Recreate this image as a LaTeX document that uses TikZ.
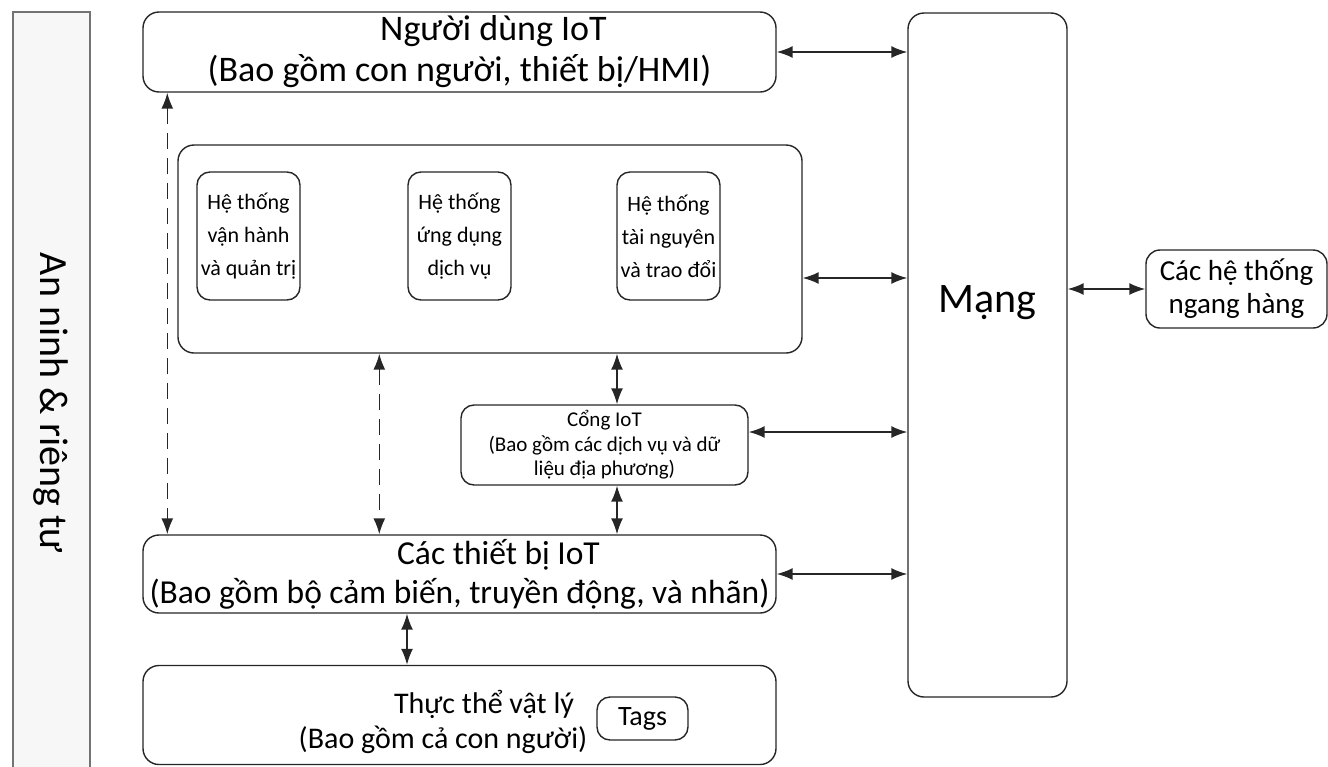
\documentclass[tikz,border=0pt]{standalone}
\usepackage{fontspec}
\setmainfont{Carlito}
\usetikzlibrary{arrows.meta,positioning}

\begin{document}
\begin{tikzpicture}
	[x=1pt, y=-1pt, inner sep=0pt,
	frame/.style	= {draw=black!85, line width=1.4pt, rounded corners=16pt, fill=white, align=center},
	inner/.style	= {frame, rounded corners=13pt, minimum width=103pt, minimum height=128pt, font=\fontsize{22}{33}\selectfont},
	label/.style	= {align=center},
	link/.style		= {{Latex[length=16pt,width=12pt]}-{Latex[length=16pt,width=12pt]}, line width=1.6pt, black!85},
	dashlink/.style	= {link, dash pattern=on 16pt off 9pt}]

	\useasboundingbox (0,0) rectangle (1328,766);

	% security column
	\draw [draw=black!55, fill=black!3, line width=1.2pt] (13,12) rectangle (90,790);
	\node [label, rotate=-90, font=\fontsize{40}{46}\selectfont] at (51,403) (sec) {An ninh \& riêng tư};

	% main column
	\node [frame, minimum width=633pt, minimum height=80pt, font=\fontsize{36}{41}\selectfont]	at (459.5,52)	(user)	{\hspace*{68pt}Người dùng IoT\\(Bao gồm con người, thiết bị/HMI)};
	\node [frame, minimum width=624pt, minimum height=208pt]	at (490,249)	(sys)	{};
	\node [inner]	at (248.5,236)	(ops)	{Hệ thống\\vận hành\\và quản trị};
	\node [inner]	at (459.5,236)	(app)	{Hệ thống\\ứng dụng\\dịch vụ};
	\node [inner]	at (668.5,236)	(res)	{Hệ thống\\tài nguyên\\và trao đổi};
	\node [frame, rounded corners=13pt, minimum width=287pt, minimum height=80pt, font=\fontsize{21}{24.5}\selectfont]	at (604.5,445)	(gate)	{Cổng IoT\\(Bao gồm các dịch vụ và dữ\\liệu địa phương)};
	\node [frame, minimum width=633pt, minimum height=78pt, font=\fontsize{33.5}{39}\selectfont]	at (459.5,574)	(dev)	{\hspace*{78pt}Các thiết bị IoT\\(Bao gồm bộ cảm biến, truyền động, và nhãn)};
	\node [frame, minimum width=633pt, minimum height=99pt]	at (459.5,715)	(phys)	{};
	\node [label, font=\fontsize{30}{35}\selectfont]	at (443,722)	(physlbl)	{\hspace*{82pt}Thực thể vật lý\\(Bao gồm cả con người)};
	\node [frame, rounded corners=13pt, minimum width=91pt, minimum height=43pt, font=\fontsize{28}{32}\selectfont]	at (642.5,718.5)	(tags)	{Tags};

	% network and peers
	\node [frame, minimum width=159pt, minimum height=684pt]	at (987.5,355)	(net)	{};
	\node [label, font=\fontsize{42}{48}\selectfont]	at (987.5,303)	(netlbl)	{Mạng};
	\node [frame, rounded corners=14pt, minimum width=181pt, minimum height=78pt, font=\fontsize{29}{33}\selectfont]	at (1236.5,289)	(peer)	{Các hệ thống\\ngang hàng};

	% links to network
	\draw [link] (user.east) -- (user.east -| net.west);
	\draw [link] ([yshift=-29pt]sys.east) -- ([yshift=-29pt]sys.east -| net.west);
	\draw [link] ([yshift=13pt]gate.east) -- ([yshift=13pt]gate.east -| net.west);
	\draw [link] (dev.east) -- (dev.east -| net.west);
	\draw [link] (net.east |- peer.west) -- (peer.west);

	% vertical links
	\draw [dashlink] ([xshift=25pt]user.south west) -- ([xshift=25pt]dev.north west);
	\draw [dashlink] ([xshift=202pt]sys.south west) -- ([xshift=202pt]sys.south west |- dev.north);
	\draw [link] ([xshift=12.5pt]gate.north) -- ([xshift=12.5pt]gate.north |- sys.south);
	\draw [link] ([xshift=12.5pt]gate.south) -- ([xshift=12.5pt]gate.south |- dev.north);
	\draw [link] ([xshift=-52.5pt]dev.south) -- ([xshift=-52.5pt]dev.south |- phys.north);
\end{tikzpicture}
\end{document}
